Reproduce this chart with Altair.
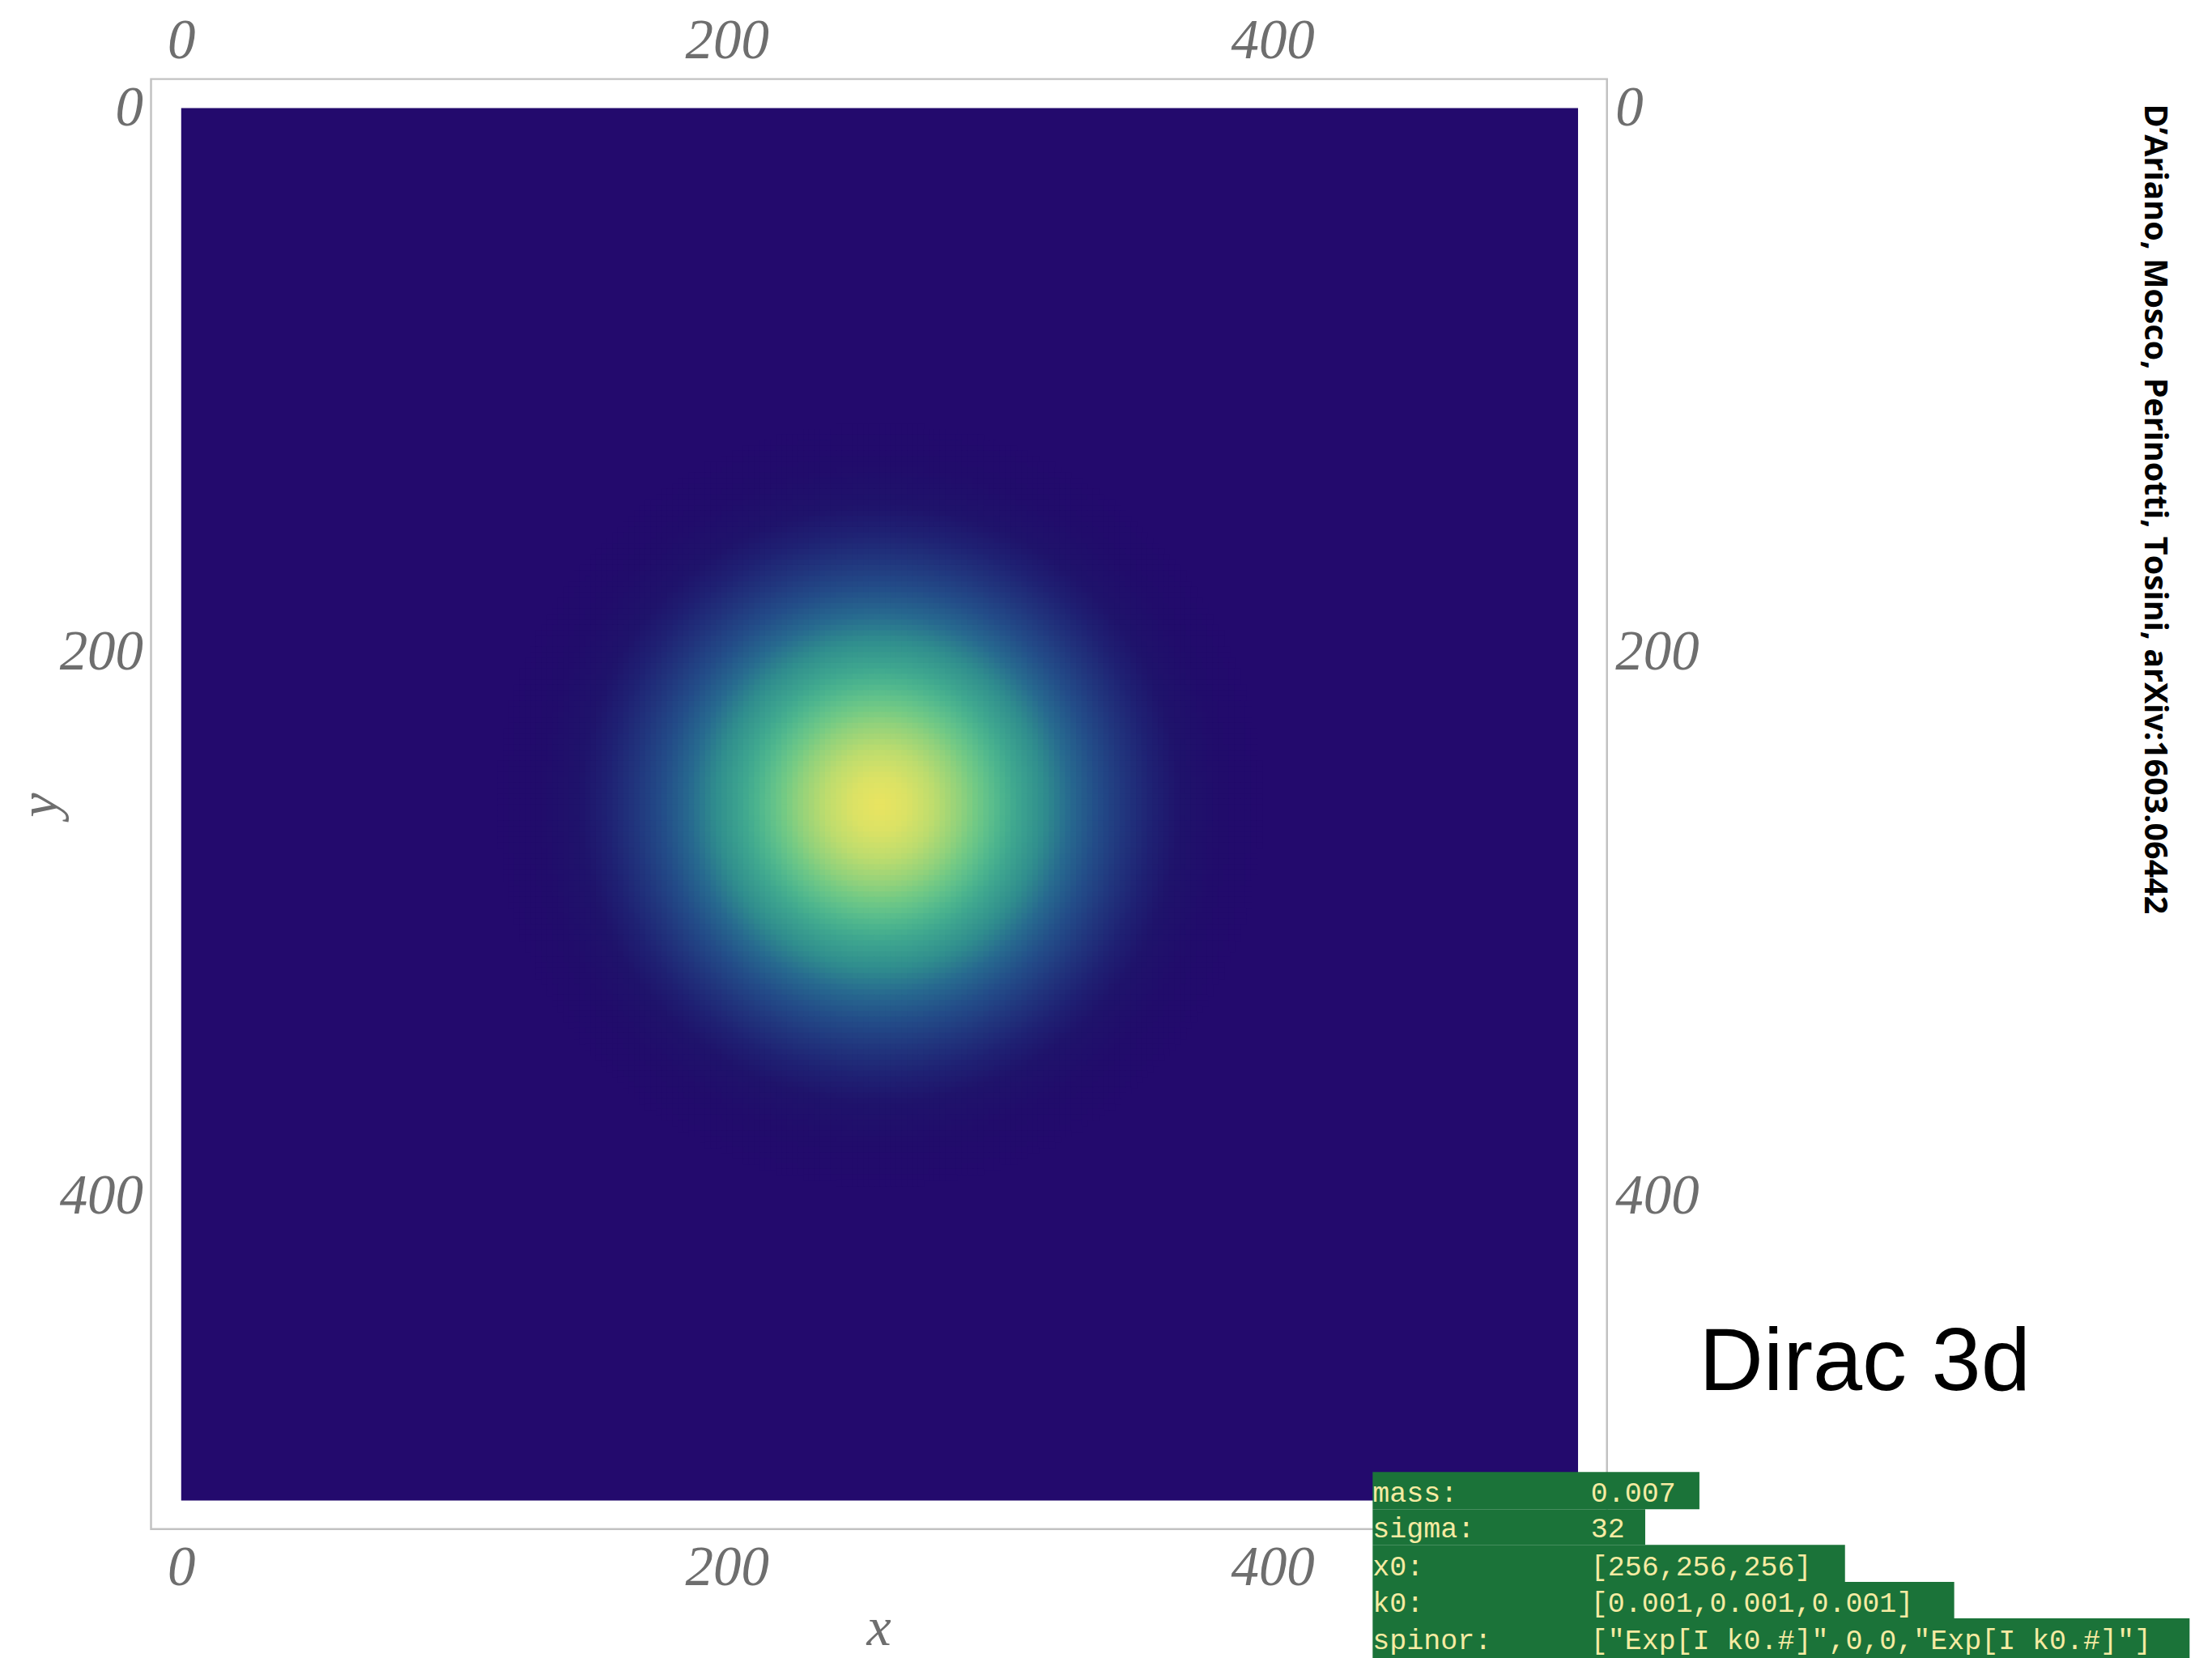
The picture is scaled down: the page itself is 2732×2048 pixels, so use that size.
import altair as alt
import pandas as pd

# ---------------- values ----------------
TICKS = [0, 200, 400]
X_DOMAIN = [-11.06, 522.6]          # frame range (Mathematica plot-range padding)
Y_DOMAIN = [-10.7, 522.5]
FIELD_X = [0, 512]                  # extent of the density field
FIELD_Y = [0, 512]
CENTER = [256, 256]                 # packet centre (x0)
# radial profile of the density colour (radius in lattice units -> colour)
PROFILE_R = [0, 10, 20, 30, 35, 40, 45, 50, 60, 70, 80, 90, 100, 110, 125, 140]
PROFILE_COLORS = ["#e9e460", "#dbe265", "#bddc6e", "#8fd17c", "#74ca84", "#5fc08b",
                  "#4cb48e", "#3fa78f", "#308e8e", "#27698f", "#234c88", "#21357d",
                  "#1f2173", "#1f136b", "#210c6b", "#230a6d"]
BACKGROUND_COLOR = "#230a6d"
GRID = list(range(114, 398, 2))     # lattice cells drawn around the packet
CELL = 2

PARAM_NAMES = ["mass:", "sigma:", "x0:", "k0:", "spinor:"]
PARAM_VALUES = ["0.007", "32", "[256,256,256]", "[0.001,0.001,0.001]",
                '["Exp[I k0.#]",0,0,"Exp[I k0.#]"]']
X_TITLE = "x"
Y_TITLE = "y"
TITLE = "Dirac 3d"
CREDIT = "D\u2019Ariano, Mosco, Perinotti, Tosini, arXiv:1603.06442"

# ---------------- layout (pixels, relative to plot area) ----------------
W, H = 1800, 1793
PAD = {"left": 178.7, "top": 88.7, "right": 740, "bottom": 158.3}
BOX_LEFT = 1510.3
ROW_TOP = [1722.3, 1768.3, 1812.3, 1858.3, 1903.3]
ROW_BOTTOM = [1768.3, 1812.3, 1858.3, 1903.3, 1953.3]
ROW_RIGHT = [1914.3, 1847.3, 2094.3, 2229.3, 2520.3]
ROW_BASE = [1759.3, 1803.3, 1850.0, 1895.0, 1941.6]
VALUE_X = 1780
LABEL_GRAY = "#6e6e6e"

xscale = alt.Scale(domain=X_DOMAIN, nice=False, zero=False)
yscale = alt.Scale(domain=Y_DOMAIN, nice=False, zero=False, reverse=True)


def axis(orient, pad):
    return alt.Axis(orient=orient, values=TICKS, title=None, grid=False, ticks=False,
                    tickSize=0, domain=False, labelFont="Liberation Serif",
                    labelFontStyle="italic", labelFontSize=69, labelColor=LABEL_GRAY,
                    labelPadding=pad, labelFlush=False, labelOverlap=False)


field_df = pd.DataFrame({"x0": [FIELD_X[0]], "x1": [FIELD_X[1]],
                         "y0": [FIELD_Y[0]], "y1": [FIELD_Y[1]]})

background = alt.Chart(field_df).mark_rect(color=BACKGROUND_COLOR).encode(
    x=alt.X("x0:Q", scale=xscale, axis=axis("bottom", 14)),
    x2="x1:Q",
    y=alt.Y("y0:Q", scale=yscale, axis=axis("left", 10)),
    y2="y1:Q",
)

opposite_axes = alt.Chart(field_df).mark_rect(opacity=0).encode(
    x=alt.X("x0:Q", scale=xscale, axis=axis("top", 12)),
    x2="x1:Q",
    y=alt.Y("y0:Q", scale=yscale, axis=axis("right", 10)),
    y2="y1:Q",
)

rows = [{"y": y, "xs": GRID} for y in GRID]
cells = (
    alt.Chart(alt.Data(values=rows))
    .transform_flatten(["xs"])
    .transform_calculate(
        r=f"sqrt(pow(datum.xs + {CELL/2} - {CENTER[0]}, 2) + pow(datum.y + {CELL/2} - {CENTER[1]}, 2))",
        xe=f"datum.xs + {CELL} + 0.4",
        ye=f"datum.y + {CELL} + 0.4",
    )
    .transform_filter(f"datum.r <= {PROFILE_R[-1]}")
    .mark_rect()
    .encode(
        x=alt.X("xs:Q", scale=xscale, axis=None),
        x2="xe:Q",
        y=alt.Y("y:Q", scale=yscale, axis=None),
        y2="ye:Q",
        color=alt.Color("r:Q", legend=None,
                        scale=alt.Scale(domain=PROFILE_R, range=PROFILE_COLORS,
                                        interpolate="rgb", clamp=True)),
    )
)

one = pd.DataFrame({"k": [0]})

x_title = alt.Chart(one).mark_text(
    text=X_TITLE, font="Liberation Serif", fontStyle="italic", fontSize=68,
    color=LABEL_GRAY, align="center", baseline="alphabetic",
).encode(x=alt.value(W / 2), y=alt.value(1936))

y_title = alt.Chart(one).mark_text(
    text=Y_TITLE, font="Liberation Serif", fontStyle="italic", fontSize=68,
    color=LABEL_GRAY, align="center", baseline="alphabetic", angle=270,
).encode(x=alt.value(-116), y=alt.value(898))

title = alt.Chart(one).mark_text(
    text=TITLE, font="Liberation Sans", fontSize=110, color="#000000",
    align="left", baseline="alphabetic",
).encode(x=alt.value(1914), y=alt.value(1621))

credit = alt.Chart(one).mark_text(
    text=CREDIT, font="Open Sans", fontWeight="bold", fontSize=39.5, color="#000000",
    align="left", baseline="alphabetic", angle=90,
).encode(x=alt.value(2465), y=alt.value(31))

param_layers = []
for i in range(len(PARAM_NAMES)):
    param_layers.append(
        alt.Chart(one).mark_rect(color="#1b7339").encode(
            x=alt.value(BOX_LEFT), x2=alt.value(ROW_RIGHT[i]),
            y=alt.value(ROW_TOP[i]), y2=alt.value(ROW_BOTTOM[i]),
        )
    )
for i in range(len(PARAM_NAMES)):
    param_layers.append(
        alt.Chart(one).mark_text(
            text=PARAM_NAMES[i], font="Liberation Mono", fontSize=35, color="#f5eba2",
            align="left", baseline="alphabetic",
        ).encode(x=alt.value(BOX_LEFT), y=alt.value(ROW_BASE[i]))
    )
    param_layers.append(
        alt.Chart(one).mark_text(
            text=PARAM_VALUES[i], font="Liberation Mono", fontSize=35, color="#f5eba2",
            align="left", baseline="alphabetic",
        ).encode(x=alt.value(VALUE_X), y=alt.value(ROW_BASE[i]))
    )

chart = (
    alt.layer(background, cells, opposite_axes, x_title, y_title, title, credit,
              *param_layers)
    .resolve_axis(x="independent", y="independent")
    .properties(width=W, height=H, autosize=alt.AutoSizeParams(type="none"),
                padding=PAD)
    .configure_view(stroke="#c2c2c2", strokeWidth=2.5)
)

chart.save("out.html", embed_options={"renderer": "svg", "actions": False})
